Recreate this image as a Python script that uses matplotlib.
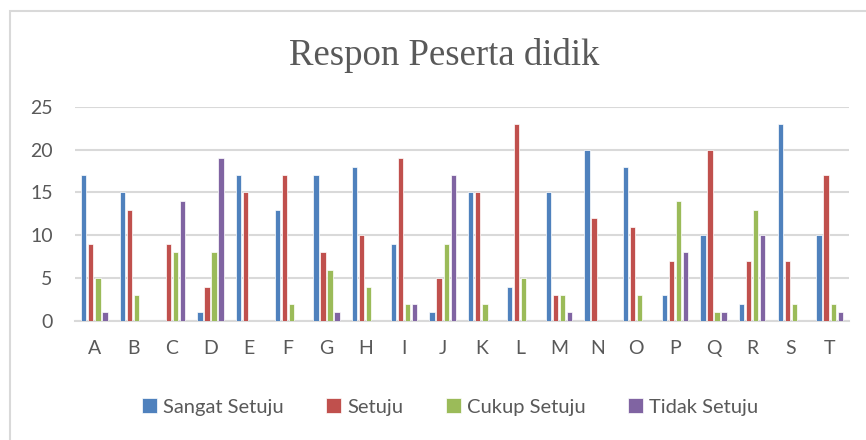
from matplotlib import pyplot as plt
from matplotlib.patches import Rectangle
import numpy as np

# data
kategori = ['A','B','C','D','E','F','G','H','I','J','K','L','M','N','O','P','Q','R','S','T']
sangat_setuju = [17,15,0,1,17,13,17,18,9,1,15,4,15,20,18,3,10,2,23,10]
setuju        = [9,13,9,4,15,17,8,10,19,5,15,23,3,12,11,7,20,7,7,17]
cukup_setuju  = [5,3,8,8,0,2,6,4,2,9,2,5,3,0,3,14,1,13,2,2]
tidak_setuju  = [1,0,14,19,0,0,1,0,2,17,0,0,1,0,0,8,1,10,0,1]

seri = ['Sangat Setuju','Setuju','Cukup Setuju','Tidak Setuju']
warna = ['#4F81BD','#C0504D','#9BBB59','#8064A2']
nilai = [sangat_setuju, setuju, cukup_setuju, tidak_setuju]

plt.rcParams['font.family'] = ['Lato', 'DejaVu Sans']
abu = '#595959'

fig = plt.figure(figsize=(8.66,4.4), dpi=100)
fig.patch.set_facecolor('white')

# chart border (cut off at right/bottom like the screenshot)
fig.patches.append(Rectangle((10/866, -0.1), 1.0, 1-11/440+0.1, transform=fig.transFigure,
                             fill=False, edgecolor='#D9D9D9', linewidth=1.5))

ax = fig.add_axes([75/866, 119/440, 774/866, 214.3/440])

x = np.arange(len(kategori))
lebar = 0.137
jarak = 0.181
for i in range(4):
    ax.bar(x + (i-1.5)*jarak, nilai[i], width=lebar, color=warna[i],
           edgecolor='white', linewidth=0.5, label=seri[i], zorder=3)

ax.set_xlim(-0.5, len(kategori)-0.5)
ax.set_ylim(0, 25)
ax.set_yticks([0,5,10,15,20,25])
ax.set_xticks(x)
ax.set_xticklabels(kategori)
ax.tick_params(axis='both', length=0, labelsize=14, labelcolor=abu)
ax.tick_params(axis='y', pad=16)
ax.tick_params(axis='x', pad=14)
ax.grid(axis='y', color='#D9D9D9', linewidth=1.5, zorder=0)
for s in ['top','right','left']:
    ax.spines[s].set_visible(False)
ax.spines['bottom'].set_color('#D9D9D9')
ax.spines['bottom'].set_linewidth(1.5)

fig.text(444/866, 1-65/440, 'Respon Peserta didik', ha='center', va='baseline',
         fontsize=26.5, color=abu, family=['Liberation Serif'])

fig.legend(loc='center', bbox_to_anchor=(450/866, 1-407/440), ncol=4, frameon=False,
           fontsize=14.5, labelcolor=abu, handlelength=0.75, handleheight=0.75,
           handletextpad=0.3, columnspacing=2.1)

plt.savefig('out.png', dpi=100)
